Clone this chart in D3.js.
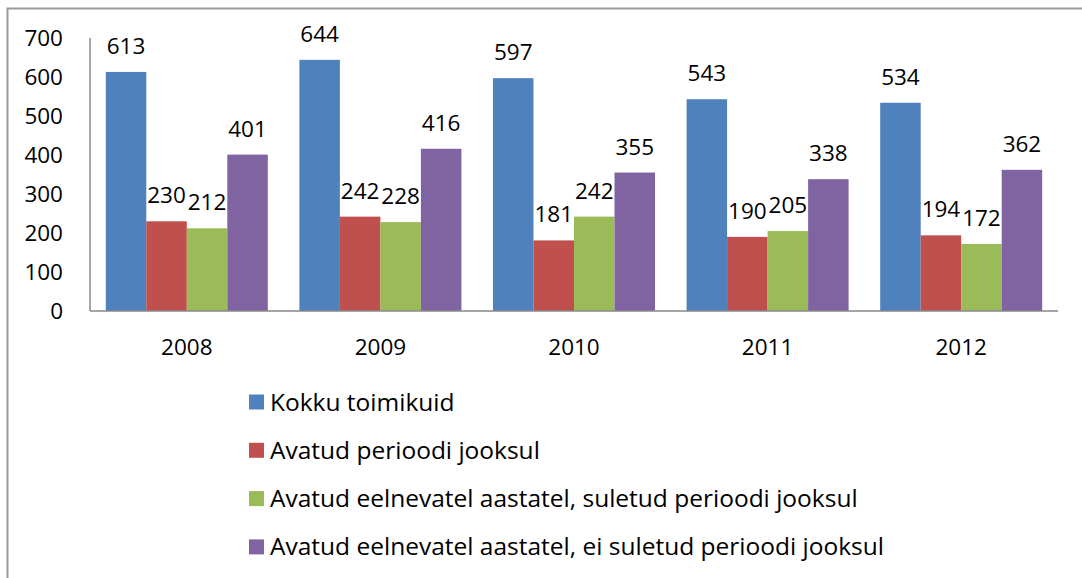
<!DOCTYPE html>
<html>
<head>
<meta charset="utf-8">
<script src="https://cdn.jsdelivr.net/npm/d3@7"></script>
<style>
  html, body { margin: 0; padding: 0; background: #fff; }
  svg text { font-family: "Open Sans", Lato, sans-serif; fill: #000; }
</style>
</head>
<body>
<svg id="chart"></svg>
<script>
// andmed
const years = ["2008", "2009", "2010", "2011", "2012"];
const seriesNames = [
  "Kokku toimikuid",
  "Avatud perioodi jooksul",
  "Avatud eelnevatel aastatel, suletud perioodi jooksul",
  "Avatud eelnevatel aastatel, ei suletud perioodi jooksul"
];
const kokku = [613, 644, 597, 543, 534];
const avatud = [230, 242, 181, 190, 194];
const suletud = [212, 228, 242, 205, 172];
const eiSuletud = [401, 416, 355, 338, 362];
const yTicks = [0, 100, 200, 300, 400, 500, 600, 700];
const colors = ["#4F81BD", "#C0504D", "#9BBB59", "#8064A2"];

const width = 1082, height = 578;
const plot = { left: 90, right: 1058, top: 38, bottom: 311 };

const svg = d3.select("#chart")
  .attr("width", width)
  .attr("height", height);

// raam
svg.append("rect")
  .attr("x", 7.5).attr("y", 8.5)
  .attr("width", width + 20).attr("height", height + 20)
  .attr("fill", "none")
  .attr("stroke", "#999")
  .attr("stroke-width", 2);

const allSeries = [kokku, avatud, suletud, eiSuletud];
const rows = years.map((y, i) => ({ year: y, values: allSeries.map(s => s[i]) }));

const x0 = d3.scaleBand()
  .domain(years)
  .range([plot.left, plot.right])
  .paddingInner(0)
  .paddingOuter(0);

const x1 = d3.scaleBand()
  .domain(d3.range(seriesNames.length))
  .range([0, x0.bandwidth()])
  .paddingOuter(0.39)
  .paddingInner(0);

const y = d3.scaleLinear()
  .domain([0, 700])
  .range([plot.bottom, plot.top]);

// y-telje sildid
svg.append("g")
  .selectAll("text")
  .data(yTicks)
  .enter().append("text")
  .attr("x", 63)
  .attr("y", d => y(d))
  .attr("dy", "0.35em")
  .attr("text-anchor", "end")
  .attr("font-size", 22.5)
  .text(d => d);

// tulbad
const groups = svg.append("g")
  .selectAll("g")
  .data(rows)
  .enter().append("g")
  .attr("transform", d => `translate(${x0(d.year)},0)`);

groups.selectAll("rect")
  .data(d => d.values.map((v, k) => ({ k, v })))
  .enter().append("rect")
  .attr("x", d => x1(d.k))
  .attr("y", d => y(d.v))
  .attr("width", x1.bandwidth())
  .attr("height", d => y(0) - y(d.v))
  .attr("fill", d => colors[d.k]);

groups.selectAll("text")
  .data(d => d.values.map((v, k) => ({ k, v })))
  .enter().append("text")
  .attr("x", d => x1(d.k) + x1.bandwidth() / 2)
  .attr("y", d => y(d.v) - 18)
  .attr("text-anchor", "middle")
  .attr("font-size", 22.5)
  .text(d => d.v);

// teljed
svg.append("line")
  .attr("x1", plot.left).attr("x2", plot.left)
  .attr("y1", plot.top).attr("y2", plot.bottom)
  .attr("stroke", "#888").attr("stroke-width", 1.5);
svg.append("line")
  .attr("x1", plot.left).attr("x2", plot.right)
  .attr("y1", plot.bottom).attr("y2", plot.bottom)
  .attr("stroke", "#888").attr("stroke-width", 1.5);

// x-telje sildid
svg.append("g")
  .selectAll("text")
  .data(years)
  .enter().append("text")
  .attr("x", d => x0(d) + x0.bandwidth() / 2)
  .attr("y", 355)
  .attr("text-anchor", "middle")
  .attr("font-size", 22.5)
  .text(d => d);

// legend
const legend = svg.append("g")
  .selectAll("g")
  .data(seriesNames)
  .enter().append("g")
  .attr("transform", (d, i) => `translate(249,${402 + i * 48.3})`);

legend.append("rect")
  .attr("x", 0).attr("y", -7.5)
  .attr("width", 15).attr("height", 15)
  .attr("fill", (d, i) => colors[i]);

legend.append("text")
  .attr("x", 21)
  .attr("dy", "0.35em")
  .attr("font-size", 24.5)
  .text(d => d);
</script>
</body>
</html>
